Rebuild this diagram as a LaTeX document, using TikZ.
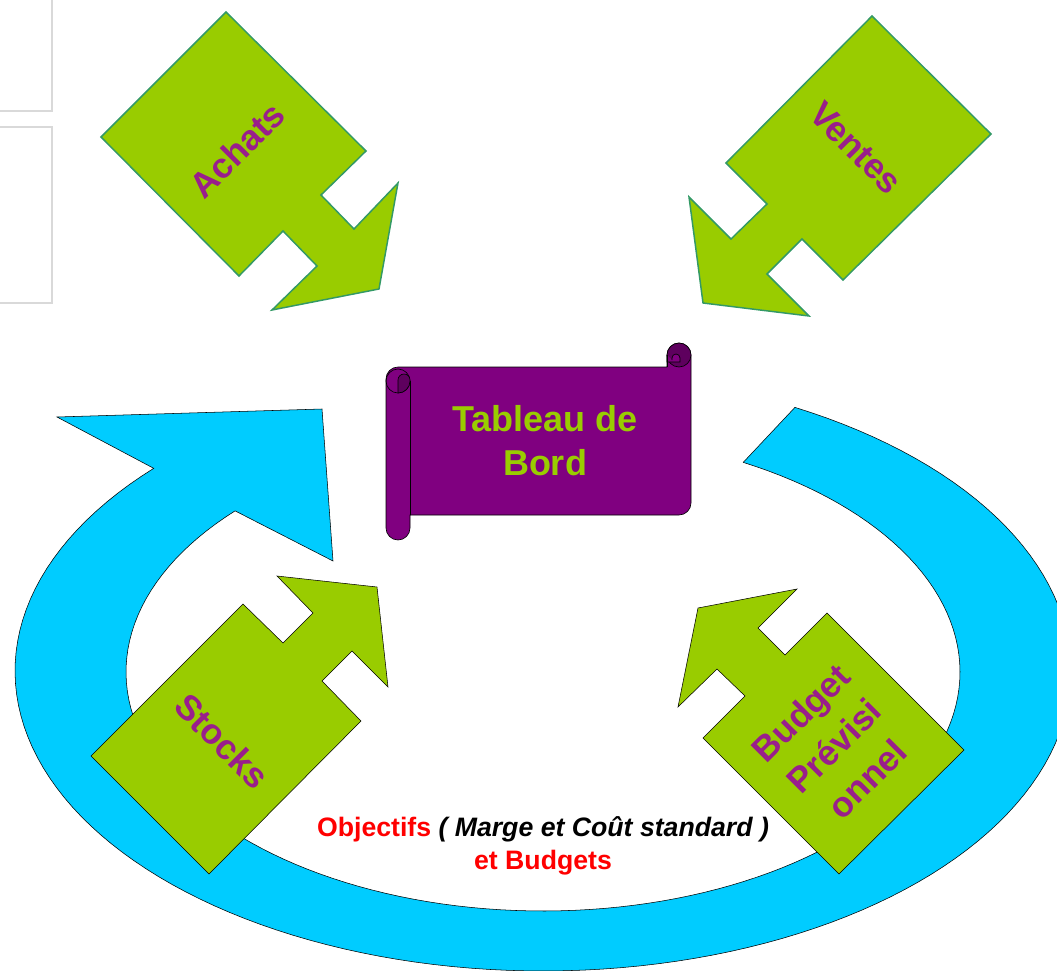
\documentclass[tikz,border=0pt]{standalone}
\usepackage{fontspec}
\setmainfont{Liberation Sans}
\definecolor{leaf}{HTML}{99CC00}
\definecolor{teal}{HTML}{339966}
\definecolor{sky}{HTML}{00CCFF}
\definecolor{plum}{HTML}{800080}
\definecolor{plumdark}{HTML}{5E005E}
\definecolor{labelc}{HTML}{991E8C}
\definecolor{boxgray}{HTML}{D9D9D9}
\begin{document}
\begin{tikzpicture}[x=0.75pt,y=-0.75pt,
  arrowA/.style={fill=leaf,draw=teal,line width=1.1pt,line join=miter},
  arrowB/.style={fill=leaf,draw=black,line width=0.4pt},
  ring/.style={fill=sky,draw=black,line width=0.4pt},
  scrollc/.style={fill=plum,draw=black,line width=0.5pt},
  lbl/.style={text=labelc,font=\fontsize{26.5}{35}\selectfont\bfseries,align=center,inner sep=0pt},
  grayb/.style={draw=boxgray,line width=0.8pt}]
\useasboundingbox (0,0) rectangle (1057,971);
\clip (0,0) rectangle (1057,971);

% gray frames at top left
\draw[grayb] (-5,-2) rectangle (52,111);
\draw[grayb] (-5,127) rectangle (52,303);

% blue circular arrow
\draw[ring] plot[domain=222.5:-61.5,samples=140] ({543+528*cos(\x)},{671+300*sin(\x)})
  -- plot[domain=-61.3:222.4,samples=140] ({543+417*cos(\x)},{672+239*sin(\x)})
  -- (333,561) -- (322,409) -- (57,417) -- cycle;

% Achats arrow
\draw[arrowA] (226,12) -- (366,151) -- (321,195) -- (354,229) -- (398,183) -- (379,289)
  -- (272,310) -- (317,266) -- (283,231) -- (239,276) -- (101,137) -- cycle;
% Ventes arrow
\draw[arrowA] (872,16) -- (991,134) -- (843,280) -- (802,239) -- (767,274) -- (809,316)
  -- (703,303) -- (689,197) -- (731,239) -- (767,204) -- (726,163) -- cycle;
% Stocks arrow
\draw[arrowB] (91,756) -- (243,604) -- (283,643) -- (313,613) -- (277,576) -- (377,587)
  -- (388,687) -- (352,651) -- (322,681) -- (361,721) -- (209,874) -- cycle;
% Budget arrow
\draw[arrowB] (827,613) -- (964,750) -- (839,874) -- (703,738) -- (745,696) -- (717,669)
  -- (678,707) -- (698,608) -- (797,589) -- (758,628) -- (785,655) -- cycle;

% scroll
\draw[scrollc] (386,528) -- (386,379) arc[start angle=180,end angle=270,radius=12]
  -- (667,367) -- (667,355) arc[start angle=180,end angle=360,radius=12]
  -- (691,503) arc[start angle=0,end angle=90,radius=12]
  -- (410,515) -- (410,528) arc[start angle=0,end angle=180,radius=12] -- cycle;
\draw[line width=0.5pt] (410,381) -- (410,515);
\draw[line width=0.5pt] (398,381) circle[radius=12];
\draw[fill=plumdark,line width=0.5pt] (398,393) -- (398,380) arc[start angle=180,end angle=360,radius=6]
  -- (410,381) arc[start angle=0,end angle=90,radius=12] -- cycle;
\draw[fill=plumdark,line width=0.5pt] (679,355) circle[radius=12];
\draw[fill=plum,line width=0.5pt] (667,355) -- (667,362) -- (680,362) -- (680,358)
  arc[start angle=0,end angle=-180,radius=4] -- (672,360);
\draw[line width=0.5pt] (667,355) -- (667,367);

% labels
\node[lbl,rotate=45] (achats) at (237,150) {Achats};
\node[lbl,rotate=-45] (ventes) at (856,148) {Ventes};
\node[lbl,rotate=-45] (stocks) at (222,741) {Stocks};
\node[lbl,rotate=45] (budget) at (834,746) {Budget\\Prévisi\\onnel};
\node[text=leaf,font=\fontsize{27}{33}\selectfont\bfseries,align=center,inner sep=0pt] (tdb) at (545,441) {Tableau de\\Bord};
\node[font=\fontsize{20}{24.75}\selectfont\bfseries,align=center,inner sep=0pt] (obj) at (543,846)
  {\textcolor{red}{Objectifs} \textit{( Marge et Coût standard )}\\\textcolor{red}{et Budgets}};
\end{tikzpicture}
\end{document}
